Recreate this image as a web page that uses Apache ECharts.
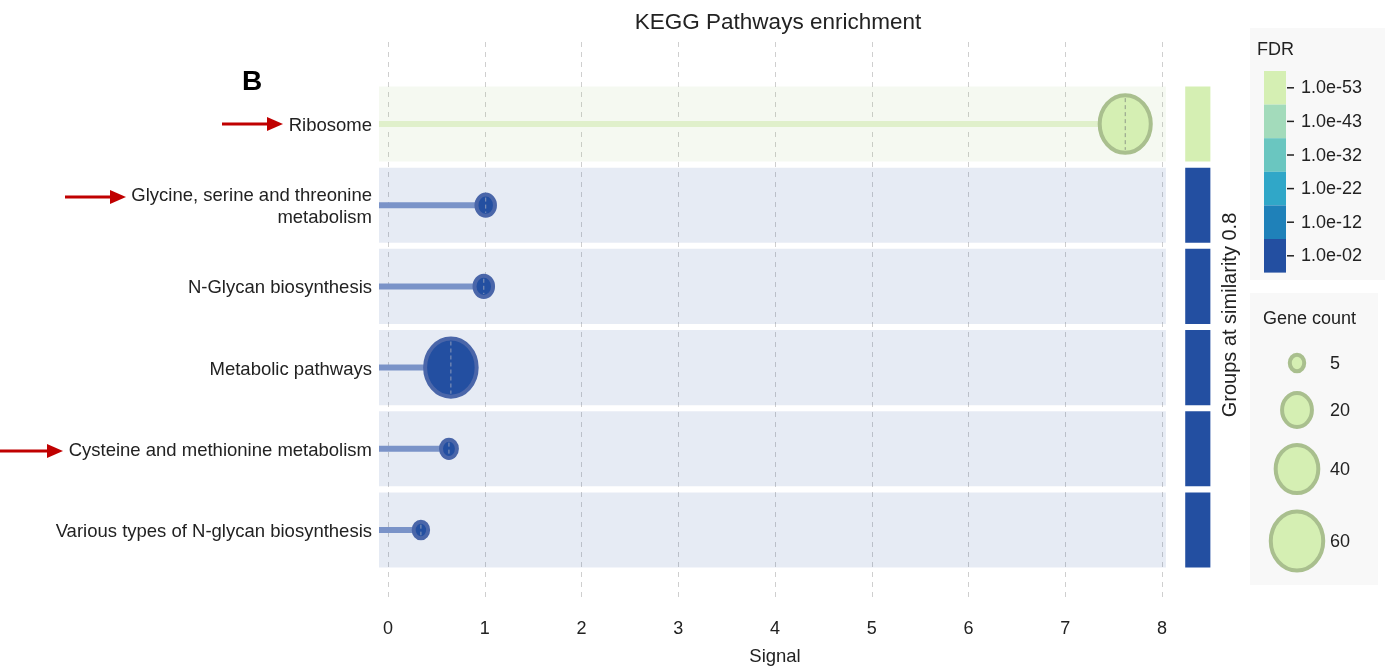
<!DOCTYPE html>
<html>
<head>
<meta charset="utf-8">
<title>KEGG Pathways enrichment</title>
<script src="https://cdn.jsdelivr.net/npm/echarts@6/dist/echarts.min.js"></script>
<style>
  html, body { margin: 0; padding: 0; background: #ffffff; }
  #chart { width: 1391px; height: 668px; }
</style>
</head>
<body>
<div id="chart"></div>
<script>
// Enriched KEGG pathways, top to bottom
const pathways = [
  'Ribosome',
  'Glycine, serine and threonine\nmetabolism',
  'N-Glycan biosynthesis',
  'Metabolic pathways',
  'Cysteine and methionine metabolism',
  'Various types of N-glycan biosynthesis'
];
const signal = [7.62, 1.01, 0.99, 0.65, 0.63, 0.34];
const geneCount = [57, 8, 8, 58, 6, 5];
const fdrExponent = [-54, -3, -3, -2, -2, -2];   // log10(FDR)
const highlighted = [true, true, false, false, true, false];

// FDR colour scale (top = most significant)
const fdrTickLabels = ['1.0e-53', '1.0e-43', '1.0e-32', '1.0e-22', '1.0e-12', '1.0e-02'];
const fdrTickExp = [-53, -43, -32, -22, -12, -2];
const fdrColors = ['#d5efb3', '#a3dbbb', '#6ac6c0', '#30a7c8', '#1f81b9', '#234fa1'];
const fdrBorders = ['#a9bf8e', '#86b49a', '#5aa3a0', '#3b8aa6', '#3a74a8', '#4a66a9'];

// Gene count size legend
const sizeLegend = [5, 20, 40, 60];

function fdrIndex(e) {
  let best = 0;
  for (let i = 1; i < fdrTickExp.length; i++) {
    if (Math.abs(fdrTickExp[i] - e) < Math.abs(fdrTickExp[best] - e)) best = i;
  }
  return best;
}
function dotWidth(n) { return 3 + 6.9 * Math.sqrt(n); }
function dotHeight(n) { return dotWidth(n) * 1.12; }

const FONT = 'Liberation Sans, Arial, sans-serif';
const chart = echarts.init(document.getElementById('chart'));

const rows = pathways.map((p, i) => [signal[i], i, geneCount[i], fdrExponent[i]]);

function renderRow(params, api) {
  const v = api.value(0), idx = api.value(1), n = api.value(2), e = api.value(3);
  const ci = fdrIndex(e);
  const center = api.coord([v, idx]);
  const bandH = api.size([0, 1])[1];
  const h = bandH * 0.925;
  const x0 = api.coord([-0.093, idx])[0];
  const x1 = api.coord([8.04, idx])[0];
  const xZero = api.coord([0, idx])[0];
  const gx0 = api.coord([8.24, idx])[0];
  const gx1 = api.coord([8.5, idx])[0];
  const green = ci === 0;
  const w = dotWidth(n), dh = dotHeight(n);
  const dashHalf = Math.max(3, dh / 2 - 5);
  return {
    type: 'group',
    children: [
      { type: 'rect', shape: { x: x0, y: center[1] - h / 2, width: x1 - x0, height: h },
        style: { fill: green ? 'rgba(160,200,120,0.10)' : 'rgba(34,78,160,0.115)' } },
      { type: 'rect', shape: { x: gx0, y: center[1] - h / 2, width: gx1 - gx0, height: h },
        style: { fill: fdrColors[ci] } },
      { type: 'line', shape: { x1: x0, y1: center[1], x2: center[0], y2: center[1] },
        style: { stroke: green ? '#e0f0cb' : '#7a93c8', lineWidth: 6 } },
      { type: 'ellipse', shape: { cx: center[0], cy: center[1], rx: w / 2 - 2, ry: dh / 2 - 2 },
        style: { fill: fdrColors[ci], stroke: fdrBorders[ci], lineWidth: 4 } },
      { type: 'line', shape: { x1: center[0], y1: center[1] - dashHalf, x2: center[0], y2: center[1] + dashHalf },
        style: { stroke: green ? '#8f9a88' : '#8d9bb8', lineWidth: 1, lineDash: [4, 3] } },
      // pathway name, right-aligned left of the axis
      { type: 'text', x: xZero - 16, y: center[1] + 2,
        style: { text: pathways[params.dataIndex], font: '18.5px ' + FONT, fill: '#222',
          textAlign: 'right', textVerticalAlign: 'middle', lineHeight: 22 } }
    ]
  };
}

// FDR legend graphics
const legendGraphics = [];
legendGraphics.push({ type: 'rect', shape: { x: 1250, y: 28, width: 135, height: 252 },
  style: { fill: '#f8f8f8' } });
legendGraphics.push({ type: 'text', x: 1257, y: 50,
  style: { text: 'FDR', font: '18px ' + FONT, fill: '#222', textVerticalAlign: 'middle' } });
fdrTickLabels.forEach((lab, i) => {
  const y = 71 + i * 33.6;
  legendGraphics.push({ type: 'rect', shape: { x: 1264, y: y, width: 22, height: 33.6 },
    style: { fill: fdrColors[i] } });
  legendGraphics.push({ type: 'line', shape: { x1: 1287, y1: y + 16.8, x2: 1294, y2: y + 16.8 },
    style: { stroke: '#222', lineWidth: 1.5 } });
  legendGraphics.push({ type: 'text', x: 1301, y: y + 17.5,
    style: { text: lab, font: '18px ' + FONT, fill: '#222', textVerticalAlign: 'middle' } });
});

// Gene count legend graphics
legendGraphics.push({ type: 'rect', shape: { x: 1250, y: 293, width: 128, height: 292 },
  style: { fill: '#f8f8f8' } });
legendGraphics.push({ type: 'text', x: 1263, y: 319,
  style: { text: 'Gene count', font: '18px ' + FONT, fill: '#222', textVerticalAlign: 'middle' } });
const sizeY = [363, 410, 469, 541];
sizeLegend.forEach((n, i) => {
  const w = dotWidth(n), h = dotHeight(n);
  legendGraphics.push({ type: 'ellipse', shape: { cx: 1297, cy: sizeY[i], rx: w / 2 - 2, ry: h / 2 - 2 },
    style: { fill: fdrColors[0], stroke: fdrBorders[0], lineWidth: 4 } });
  legendGraphics.push({ type: 'text', x: 1330, y: sizeY[i] + 1,
    style: { text: String(n), font: '18px ' + FONT, fill: '#222', textVerticalAlign: 'middle' } });
});

// Side annotations
legendGraphics.push({ type: 'text', x: 1230, y: 315, rotation: Math.PI / 2,
  style: { text: 'Groups at similarity 0.8', font: '20px ' + FONT, fill: '#222',
    textAlign: 'center', textVerticalAlign: 'middle' } });
legendGraphics.push({ type: 'text', x: 242, y: 68,
  style: { text: 'B', font: 'bold 28px ' + FONT, fill: '#000' } });

// Red arrows pointing to highlighted pathways
const arrowSpans = [[222, 283], [65, 126], [0, 0], [0, 0], [0, 63], [0, 0]];
const arrowY = [124, 197, 287, 368, 451, 530];
highlighted.forEach((on, i) => {
  if (!on) return;
  const y = arrowY[i];
  const [a, b] = arrowSpans[i];
  legendGraphics.push({ type: 'line', shape: { x1: a, y1: y, x2: b - 12, y2: y },
    style: { stroke: '#c00000', lineWidth: 3 } });
  legendGraphics.push({ type: 'polygon', shape: { points: [[b - 16, y - 7], [b, y], [b - 16, y + 7]] },
    style: { fill: '#c00000' } });
});

chart.setOption({
  animation: false,
  title: {
    text: 'KEGG Pathways enrichment', left: 773, top: 6, textAlign: 'center',
    textStyle: { fontFamily: FONT, fontSize: 22.5, fontWeight: 'normal', color: '#222' }
  },
  grid: [
    { left: 388, right: 229, top: 42, bottom: 70, containLabel: false, outerBoundsMode: 'none' },
    { left: 388, right: 229, top: 83.4, bottom: 97.4, containLabel: false, outerBoundsMode: 'none' }
  ],
  xAxis: [
    { gridIndex: 0, type: 'value', min: 0, max: 8, interval: 1,
      axisLine: { show: false }, axisTick: { show: false },
      axisLabel: { margin: 22, fontFamily: FONT, fontSize: 18, color: '#222' },
      splitLine: { show: true, lineStyle: { color: '#cfcfcf', type: [5, 5], width: 1 } },
      name: 'Signal', nameLocation: 'middle', nameGap: 49,
      nameTextStyle: { fontFamily: FONT, fontSize: 18.5, color: '#222' } },
    { gridIndex: 1, type: 'value', min: 0, max: 8, show: false }
  ],
  yAxis: [
    { gridIndex: 0, type: 'value', show: false },
    { gridIndex: 1, type: 'category', data: pathways, inverse: true,
      axisLine: { show: false }, axisTick: { show: false }, splitLine: { show: false },
      axisLabel: { show: false } }
  ],
  series: [{
    type: 'custom', xAxisIndex: 1, yAxisIndex: 1, clip: false,
    renderItem: renderRow, data: rows, z: 3
  }],
  graphic: legendGraphics
});
</script>
</body>
</html>
